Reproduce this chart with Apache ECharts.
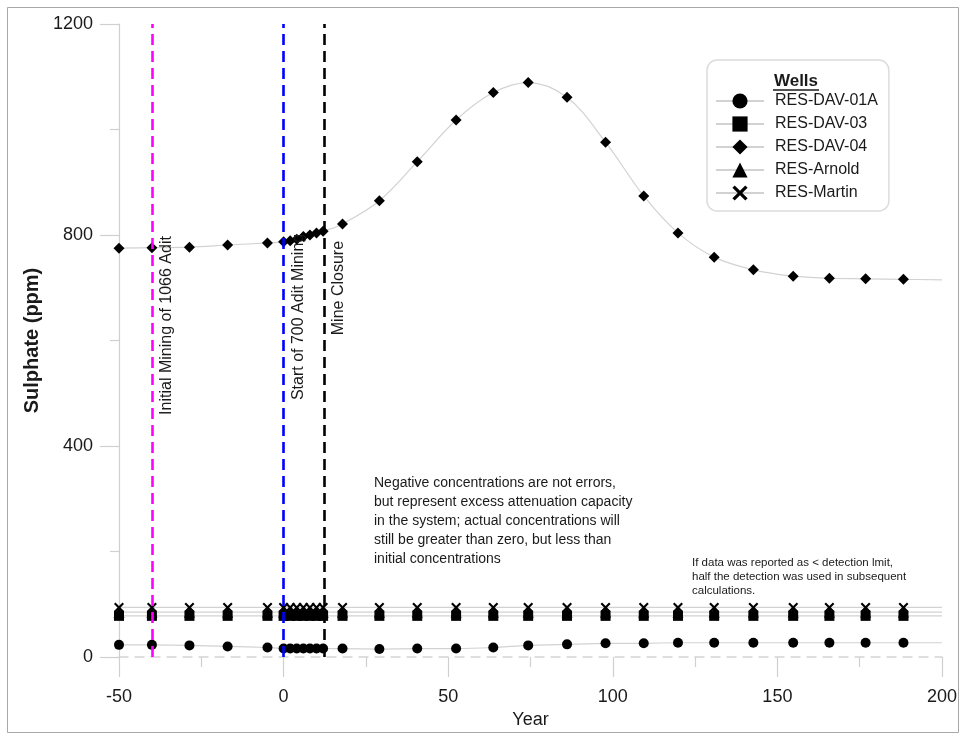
<!DOCTYPE html>
<html><head><meta charset="utf-8">
<script src="https://cdn.jsdelivr.net/npm/echarts@6/dist/echarts.min.js"></script>
<style>html,body{margin:0;padding:0;background:#fff}#c{width:960px;height:734px}</style>
</head><body><div id="c"></div>
<script>
// ---- data ----
const years  = [-50, -40, -28.6, -17, -4.9, 0, 2, 4, 6, 8, 10, 12, 17.9, 29.1, 40.6, 52.4, 63.7, 74.3, 86.1, 97.8, 109.4, 119.8, 130.8, 142.7, 154.8, 165.8, 176.8, 188.3, 200];
const dav01a = [23, 23, 22, 20, 18, 16, 16, 16, 16, 16, 16, 16, 16, 15, 16, 16, 18, 22, 24, 26, 26, 27, 27, 27, 27, 27, 27, 27, 27];
const dav03  = [78, 78, 78, 78, 78, 78, 78, 78, 78, 78, 78, 78, 78, 78, 78, 78, 78, 78, 78, 78, 78, 78, 78, 78, 78, 78, 78, 78, 78];
const dav04  = [775, 776, 777, 781, 785, 787, 789, 792, 797, 800, 804, 807, 821, 865, 939, 1018, 1070, 1089, 1061, 976, 874, 804, 758, 734, 722, 718, 717, 716, 715];
const arnold = [85, 85, 85, 85, 85, 85, 85, 85, 85, 85, 85, 85, 85, 85, 85, 85, 85, 85, 85, 85, 85, 85, 85, 85, 85, 85, 85, 85, 85];
const martin = [94, 94, 94, 94, 94, 94, 94, 94, 94, 94, 94, 94, 94, 94, 94, 94, 94, 94, 94, 94, 94, 94, 94, 94, 94, 94, 94, 94, 94];
const wellNames = ['RES-DAV-01A', 'RES-DAV-03', 'RES-DAV-04', 'RES-Arnold', 'RES-Martin'];
const eventYears  = [-40, 0, 12.2];
const eventLabels = ['Initial Mining of 1066 Adit', 'Start of 700 Adit Mining', 'Mine Closure'];
const eventLabelStart = [459, 487, 610];   // y value where each rotated label begins
const xMin = -50, xMax = 200, xStep = 50;
const yMin = 0, yMax = 1200, yStep = 400;
const noteMain = 'Negative concentrations are not errors,\nbut represent excess attenuation capacity\nin the system; actual concentrations will\nstill be greater than zero, but less than\ninitial concentrations';
const noteSmall = 'If data was reported as < detection lmit,\nhalf the detection was used in subsequent\ncalculations.';

// ---- styles ----
const FONT = "'Liberation Sans', Arial, sans-serif";
const eventColors = ['#ff00ff', '#0000ff', '#000000'];
const xPath = 'path://M0,3 L3,0 L10,7 L17,0 L20,3 L13,10 L20,17 L17,20 L10,13 L3,20 L0,17 L7,10 Z';
const symbols = ['circle', 'rect', 'diamond', 'triangle', xPath];
const sizes = [10, 10, 11, 11, 10];
const values = [dav01a, dav03, dav04, arnold, martin];

function pts(vals) {
  return years.map((yr, i) => i === years.length - 1 ? { value: [yr, vals[i]], symbol: 'none' } : [yr, vals[i]]);
}

const series = wellNames.map((name, k) => ({
  name: name,
  type: 'line',
  data: pts(values[k]),
  smooth: k === 2 ? 0.35 : 0.2,
  symbol: symbols[k],
  symbolSize: sizes[k],
  showAllSymbol: true,
  lineStyle: { color: '#d2d2d2', width: 1.2 },
  itemStyle: { color: '#000' },
  z: 3
}));

series.push({
  name: 'events',
  type: 'line',
  data: [],
  silent: true,
  markLine: {
    silent: true,
    symbol: ['none', 'none'],
    label: { show: false },
    data: eventYears.map((yr, i) => ({
      xAxis: yr,
      lineStyle: { color: eventColors[i], width: 2.6, type: [11, 6], opacity: 1 }
    }))
  },
  z: 5
});

const chart = echarts.init(document.getElementById('c'));
const option = {
  animation: false,
  backgroundColor: '#fff',
  textStyle: { fontFamily: FONT },
  grid: { left: 119, right: 17, top: 24, bottom: 77 },
  legend: {
    data: wellNames,
    orient: 'vertical',
    left: 707, top: 60,
    padding: [33, 11, 10, 8],
    itemWidth: 48, itemHeight: 19, itemGap: 7,
    backgroundColor: '#fff',
    borderColor: '#dcdcdc', borderWidth: 1.5, borderRadius: 10,
    selectedMode: false,
    textStyle: { fontSize: 16, color: '#1a1a1a', fontFamily: FONT, padding: [0, 0, 0, 6] }
  },
  xAxis: {
    type: 'value', min: xMin, max: xMax, interval: xStep,
    name: 'Year', nameLocation: 'middle', nameGap: 49,
    nameTextStyle: { fontSize: 18, color: '#1a1a1a', fontFamily: FONT },
    axisLine: { show: true, onZero: false, lineStyle: { color: '#d4d4d4', width: 1.5, type: [9, 7] } },
    axisTick: { show: true, length: 20, lineStyle: { color: '#cfcfcf', width: 1.2 } },
    minorTick: { show: true, splitNumber: 2, length: 10, lineStyle: { color: '#cfcfcf', width: 1.2 } },
    axisLabel: { fontSize: 18, color: '#1a1a1a', margin: 31, fontFamily: FONT },
    splitLine: { show: false }
  },
  yAxis: {
    type: 'value', min: yMin, max: yMax, interval: yStep,
    name: 'Sulphate (ppm)', nameLocation: 'middle', nameGap: 66,
    nameTextStyle: { fontSize: 20, fontWeight: 'bold', color: '#1a1a1a', fontFamily: FONT },
    axisLine: { show: true, onZero: false, lineStyle: { color: '#cfcfcf', width: 1.2 } },
    axisTick: { show: true, length: 19, lineStyle: { color: '#cfcfcf', width: 1.2 } },
    minorTick: { show: true, splitNumber: 2, length: 9, lineStyle: { color: '#cfcfcf', width: 1.2 } },
    axisLabel: { fontSize: 18, color: '#1a1a1a', margin: 26, fontFamily: FONT, formatter: v => String(v) },
    splitLine: { show: false }
  },
  series: series
};
chart.setOption(option);

const baseGraphics = [
  { type: 'rect', id: 'frame', silent: true, z: -10,
    shape: { x: 7.5, y: 7.5, width: 951, height: 725 },
    style: { fill: 'none', stroke: '#a8a8a8', lineWidth: 1 } },
  { type: 'text', id: 'wells', x: 796, y: 81, z: 20,
    style: { text: 'Wells', fill: '#1a1a1a', font: 'bold 17px ' + FONT,
             align: 'center', verticalAlign: 'middle', textAlign: 'center', textVerticalAlign: 'middle' } },
  { type: 'line', id: 'wellsU', z: 20, silent: true,
    shape: { x1: 773, y1: 90, x2: 819, y2: 90 }, style: { stroke: '#1a1a1a', lineWidth: 1.5 } },
  { type: 'text', id: 'note1', x: 374, y: 474, z: 20,
    style: { text: noteMain, fill: '#1a1a1a', font: '14px ' + FONT, lineHeight: 19,
             align: 'left', verticalAlign: 'top', textAlign: 'left', textVerticalAlign: 'top' } },
  { type: 'text', id: 'note2', x: 692, y: 556, z: 20,
    style: { text: noteSmall, fill: '#1a1a1a', font: '11.5px ' + FONT, lineHeight: 14,
             align: 'left', verticalAlign: 'top', textAlign: 'left', textVerticalAlign: 'top' } }
];
const eventGraphics = eventYears.map((yr, i) => {
  const p = chart.convertToPixel({ xAxisIndex: 0, yAxisIndex: 0 }, [yr, eventLabelStart[i]]);
  return { type: 'text', id: 'ev' + i, x: p[0] + 15, y: p[1], rotation: Math.PI / 2, z: 20,
    style: { text: eventLabels[i], fill: '#1a1a1a', font: '16px ' + FONT,
             align: 'left', verticalAlign: 'middle', textAlign: 'left', textVerticalAlign: 'middle' } };
});
chart.setOption({ graphic: baseGraphics.concat(eventGraphics) });
</script>
</body></html>
